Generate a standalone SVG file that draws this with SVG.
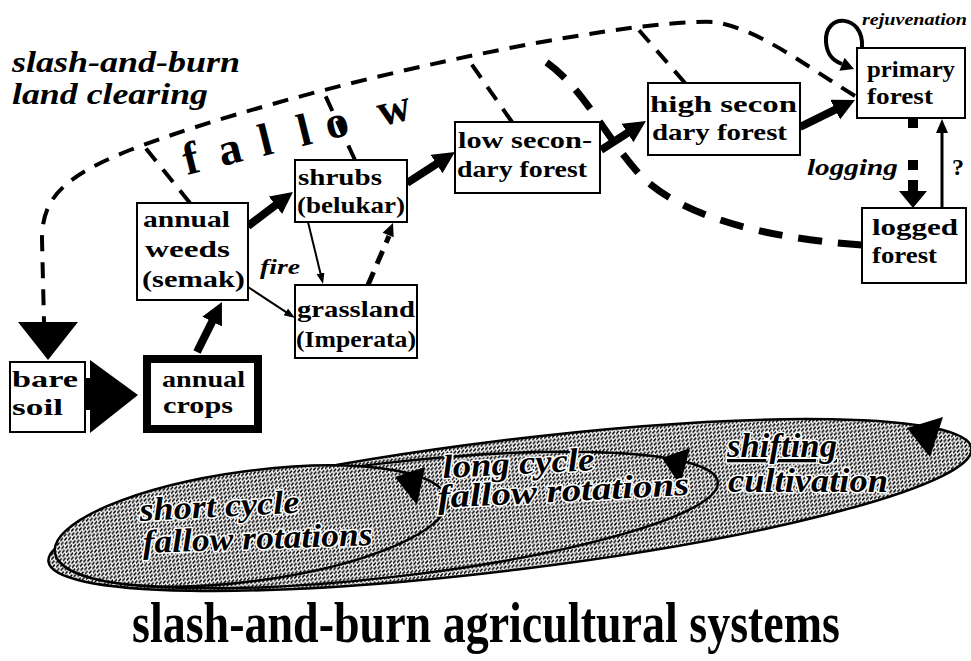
<svg xmlns="http://www.w3.org/2000/svg" width="971" height="661" viewBox="0 0 971 661">
<style>
.box{fill:#fff;stroke:#000;stroke-width:2}
.bt{font-family:'Liberation Serif',serif;font-weight:bold;font-size:24px;fill:#000}
.it{font-family:'Liberation Serif',serif;font-weight:bold;font-style:italic;fill:#000}
.dash{fill:none;stroke:#000;stroke-width:4;stroke-dasharray:16 11}
.dk{fill:none;stroke:#000;stroke-width:7;stroke-dasharray:24 16}
.thick{fill:none;stroke:#000;stroke-width:8}
.thin{fill:none;stroke:#000;stroke-width:2}
.ell{fill:url(#ht);stroke:#000;stroke-width:2.5}
.et{font-family:'Liberation Serif',serif;font-weight:bold;font-style:italic;font-size:33px;fill:#000;stroke:#fff;stroke-width:3;paint-order:stroke;stroke-linejoin:round}
</style>
<defs>
<pattern id="ht" width="4" height="4" patternUnits="userSpaceOnUse"><rect width="4" height="4" fill="#fff"/><path d="M0,3.6 L3,0.6" stroke="#000" stroke-width="1.5"/></pattern>
<marker id="ah" markerUnits="userSpaceOnUse" markerWidth="24" markerHeight="24" refX="8" refY="11" orient="auto" viewBox="0 0 24 24"><path d="M0,0 L22,11 L0,22 z" fill="#000"/></marker>
<marker id="at" markerUnits="userSpaceOnUse" markerWidth="12" markerHeight="10" refX="4" refY="4" orient="auto" viewBox="0 0 12 10"><path d="M0,0 L11,4 L0,8 z" fill="#000"/></marker>
</defs>

<g id="labels">
<text class="it" x="12" y="72" font-size="30" textLength="228" lengthAdjust="spacingAndGlyphs">slash-and-burn</text>
<text class="it" x="12" y="104" font-size="30" textLength="196" lengthAdjust="spacingAndGlyphs">land clearing</text>
<text transform="translate(187,175) rotate(-14)" x="0 36 78 118 146 200" y="0" style="font-family:'Liberation Serif',serif;font-weight:bold;font-size:46px">fallow</text>
<text class="it" x="862" y="25" font-size="16" textLength="105" lengthAdjust="spacingAndGlyphs">rejuvenation</text>
<text class="it" x="807" y="175" font-size="23" textLength="91" lengthAdjust="spacingAndGlyphs">logging</text>
<text class="it" x="260" y="274" font-size="21" textLength="40" lengthAdjust="spacingAndGlyphs">fire</text>
<text class="bt" x="952" y="175" font-size="24">?</text>
<text transform="translate(132,642) scale(1,1.22)" x="0" y="0" textLength="708" lengthAdjust="spacingAndGlyphs" style="font-family:'Liberation Serif',serif;font-weight:bold;font-size:46px">slash-and-burn agricultural systems</text>
</g>

<g id="connectors">
<path class="dash" d="M 855 96 C 800 62, 760 30, 715 22 C 620 18, 300 85, 130 150 C 60 178, 42 200, 42 240 L 44 322"/>
<path class="dash" d="M 190 203 L 143 145"/>
<path class="dash" d="M 355 160 L 325 95"/>
<path class="dash" d="M 512 122 L 470 62"/>
<path class="dash" d="M 685 83 L 638 29"/>
<path class="dk" d="M 862 245 C 760 238, 680 215, 640 175 C 600 130, 580 80, 535 55"/>
<polygon points="18,322 78,322 48,360" fill="#000"/>
<rect x="85" y="378" width="6" height="32" fill="#000"/>
<polygon points="90,360 90,433 138,395" fill="#000"/>
<line class="thick" x1="197" y1="352" x2="215.7" y2="314.5" marker-end="url(#ah)"/>
<line class="thick" x1="248" y1="226" x2="281.8" y2="200.4" marker-end="url(#ah)"/>
<line class="thick" x1="407" y1="183" x2="443.2" y2="159.6" marker-end="url(#ah)"/>
<line class="thick" x1="601" y1="150" x2="634.2" y2="128.6" marker-end="url(#ah)"/>
<line class="thick" x1="800" y1="127" x2="842.4" y2="106.2" marker-end="url(#ah)"/>
<line class="thin" x1="308" y1="222" x2="321.4" y2="277.2" marker-end="url(#at)"/>
<line class="thin" x1="248" y1="287" x2="289.2" y2="314.1" marker-end="url(#at)"/>
<line x1="368" y1="285" x2="389" y2="236" stroke="#000" stroke-width="5" stroke-dasharray="14 9"/>
<polygon points="393,223 393.7,237.3 382.6,232.7" fill="#000"/>
<line x1="913" y1="118" x2="913" y2="193" stroke="#000" stroke-width="10" stroke-dasharray="10 32 10 10 40"/>
<polygon points="899,191 927,191 913,208" fill="#000"/>
<line x1="942" y1="208" x2="942" y2="130" stroke="#000" stroke-width="3"/>
<polygon points="936,133 948,133 942,119" fill="#000"/>
<path d="M 862 47 C 864 14, 824 12, 826 42 C 827 56, 834 61, 842 64" fill="none" stroke="#000" stroke-width="4"/>
<polygon points="854,69 839.4,70.7 844.6,57.7" fill="#000"/>
</g>

<g id="node-bare-soil">
<rect class="box" x="10" y="362" width="75" height="70"/>
<text class="bt" x="12" y="387" textLength="66" lengthAdjust="spacingAndGlyphs">bare</text>
<text class="bt" x="12" y="415" textLength="51" lengthAdjust="spacingAndGlyphs">soil</text>
</g>
<g id="node-annual-crops">
<rect x="147" y="359" width="111" height="70" fill="#fff" stroke="#000" stroke-width="8"/>
<text class="bt" x="162" y="387" textLength="83" lengthAdjust="spacingAndGlyphs">annual</text>
<text class="bt" x="163" y="413" textLength="70" lengthAdjust="spacingAndGlyphs">crops</text>
</g>
<g id="node-annual-weeds">
<rect class="box" x="137" y="203" width="111" height="97"/>
<text class="bt" x="143" y="227" textLength="87" lengthAdjust="spacingAndGlyphs">annual</text>
<text class="bt" x="145" y="257" textLength="85" lengthAdjust="spacingAndGlyphs">weeds</text>
<text class="bt" x="142" y="287" textLength="103" lengthAdjust="spacingAndGlyphs">(semak)</text>
</g>
<g id="node-shrubs">
<rect class="box" x="295" y="160" width="112" height="62"/>
<text class="bt" x="298" y="185" textLength="84" lengthAdjust="spacingAndGlyphs">shrubs</text>
<text class="bt" x="297" y="213" textLength="108" lengthAdjust="spacingAndGlyphs">(belukar)</text>
</g>
<g id="node-grassland">
<rect class="box" x="295" y="285" width="122" height="73"/>
<text class="bt" x="297" y="317" textLength="118" lengthAdjust="spacingAndGlyphs">grassland</text>
<text class="bt" x="296" y="347" textLength="120" lengthAdjust="spacingAndGlyphs">(Imperata)</text>
</g>
<g id="node-low-secondary">
<rect class="box" x="455" y="122" width="145" height="71"/>
<text class="bt" x="458" y="148" textLength="134" lengthAdjust="spacingAndGlyphs">low secon-</text>
<text class="bt" x="457" y="177" textLength="130" lengthAdjust="spacingAndGlyphs">dary forest</text>
</g>
<g id="node-high-secondary">
<rect class="box" x="648" y="83" width="152" height="72"/>
<text class="bt" x="650" y="112" textLength="147" lengthAdjust="spacingAndGlyphs">high secon</text>
<text class="bt" x="652" y="140" textLength="135" lengthAdjust="spacingAndGlyphs">dary forest</text>
</g>
<g id="node-primary-forest">
<rect class="box" x="857" y="48" width="108" height="70"/>
<text class="bt" x="867" y="77" textLength="88" lengthAdjust="spacingAndGlyphs">primary</text>
<text class="bt" x="867" y="104" textLength="66" lengthAdjust="spacingAndGlyphs">forest</text>
</g>
<g id="node-logged-forest">
<rect class="box" x="862" y="208" width="104" height="75"/>
<text class="bt" x="872" y="235" textLength="86" lengthAdjust="spacingAndGlyphs">logged</text>
<text class="bt" x="872" y="263" textLength="65" lengthAdjust="spacingAndGlyphs">forest</text>
</g>

<g id="systems">
<ellipse class="ell" cx="510" cy="505" rx="465" ry="65" transform="rotate(-7 510 505)"/>
<ellipse class="ell" cx="389" cy="520" rx="331" ry="57" transform="rotate(-6.6 389 520)"/>
<ellipse class="ell" cx="251" cy="526" rx="198" ry="55" transform="rotate(-7.7 251 526)"/>
<polygon points="395,477 425,467 417,505" fill="#000"/>
<polygon points="662,458 690,448 680,485" fill="#000"/>
<polygon points="907,428 943,417 930,457" fill="#000"/>
<text class="et" x="140" y="521" textLength="160" lengthAdjust="spacingAndGlyphs" transform="rotate(-3 140 521)">short cycle</text>
<text class="et" x="143" y="553" textLength="230" lengthAdjust="spacingAndGlyphs" transform="rotate(-2 143 553)">fallow rotations</text>
<text class="et" x="443" y="478" textLength="152" lengthAdjust="spacingAndGlyphs" transform="rotate(-3 443 478)">long cycle</text>
<text class="et" x="438" y="508" textLength="252" lengthAdjust="spacingAndGlyphs" transform="rotate(-3 438 508)">fallow rotations</text>
<text class="et" x="727" y="457" textLength="110" lengthAdjust="spacingAndGlyphs" text-decoration="underline">shifting</text>
<text class="et" x="728" y="492" textLength="160" lengthAdjust="spacingAndGlyphs">cultivation</text>
</g>
</svg>
